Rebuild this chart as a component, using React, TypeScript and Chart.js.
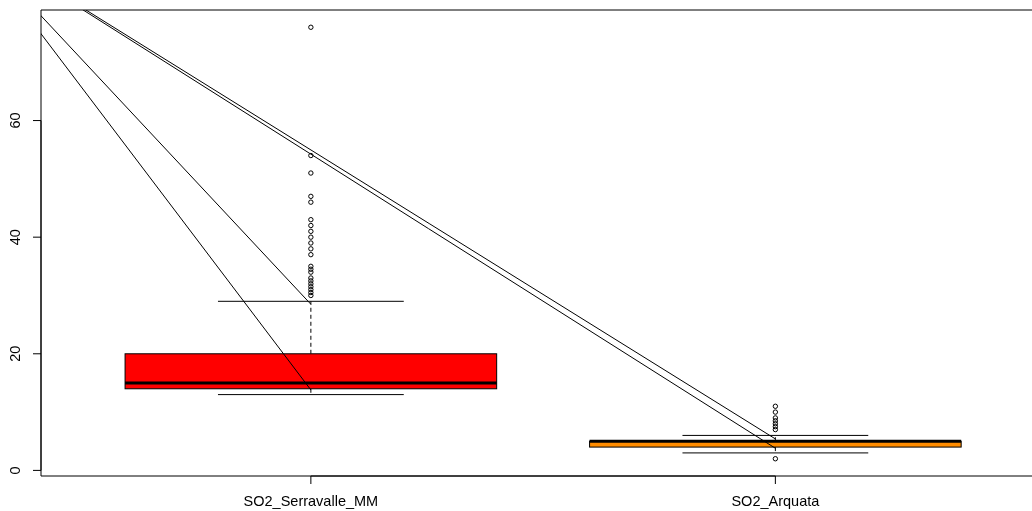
import React, { useEffect, useRef } from "react";
import { Chart, registerables } from "chart.js";

Chart.register(...registerables);

// ---- data ----
const categories = ["SO2_Serravalle_MM", "SO2_Arquata"];
const positions = [1, 2];
const lowerWhisker = [13, 3];
const q1 = [14, 4];
const median = [15, 5];
const q3 = [20, 5];
const upperWhisker = [29, 6];
const boxColors = ["#FF0000", "#FF8C00"];

const serravalleOutliers = [76, 54, 51, 47, 46, 43, 42, 41, 40, 39, 38, 37, 35, 34.5, 34, 33, 32.5, 32, 31.5, 31, 30.5, 30];
const arquataOutliers = [11, 10, 9, 8.5, 8, 7.5, 7, 2];

const yTicks = [0, 20, 40, 60];

// added straight lines (endpoints in data units)
const line1 = [{ x: 0.3, y: 87.4 }, { x: 1, y: 13.8 }];
const line2 = [{ x: 0.3, y: 88.1 }, { x: 1, y: 28.5 }];
const line3 = [{ x: 0.4, y: 84.7 }, { x: 2, y: 5.4 }];
const line4 = [{ x: 0.4, y: 84.5 }, { x: 2, y: 3.8 }];

const xRange = [0.419, 2.5525];
const yRange = [-0.96, 78.96];

const FONT = '14.5px "Liberation Sans", Arial, sans-serif';

const rPlugin = {
  id: "rBoxplot",
  beforeDatasetsDraw(chart: any) {
    const { ctx, chartArea, scales } = chart;
    const x = scales.x;
    const y = scales.y;
    ctx.save();
    ctx.beginPath();
    ctx.rect(chartArea.left, chartArea.top, chartArea.right - chartArea.left, chartArea.bottom - chartArea.top);
    ctx.clip();
    const seg = (x0: number, y0: number, x1: number, y1: number) => {
      ctx.beginPath();
      ctx.moveTo(x0, y0);
      ctx.lineTo(x1, y1);
      ctx.stroke();
    };
    positions.forEach((p, i) => {
      const cx = x.getPixelForValue(p);
      const l = x.getPixelForValue(p - 0.4);
      const r = x.getPixelForValue(p + 0.4);
      const sl = x.getPixelForValue(p - 0.2);
      const sr = x.getPixelForValue(p + 0.2);
      const yTop = y.getPixelForValue(q3[i]);
      const yBot = y.getPixelForValue(q1[i]);
      const yUp = y.getPixelForValue(upperWhisker[i]);
      const yLo = y.getPixelForValue(lowerWhisker[i]);
      const yMed = y.getPixelForValue(median[i]);
      ctx.strokeStyle = "#000";
      ctx.lineWidth = 1;
      ctx.setLineDash([4, 3]);
      seg(cx, yTop, cx, yUp);
      seg(cx, yBot, cx, yLo);
      ctx.setLineDash([]);
      seg(sl, yUp, sr, yUp);
      seg(sl, yLo, sr, yLo);
      ctx.fillStyle = boxColors[i];
      ctx.fillRect(l, yTop, r - l, yBot - yTop);
      ctx.strokeRect(l, yTop, r - l, yBot - yTop);
      ctx.lineWidth = 3;
      seg(l, yMed, r, yMed);
    });
    ctx.restore();
  },
  afterDraw(chart: any) {
    const { ctx, chartArea, scales } = chart;
    const x = scales.x;
    const y = scales.y;
    ctx.save();
    ctx.strokeStyle = "#000";
    ctx.lineWidth = 1;
    const seg = (x0: number, y0: number, x1: number, y1: number) => {
      ctx.beginPath();
      ctx.moveTo(x0, y0);
      ctx.lineTo(x1, y1);
      ctx.stroke();
    };
    seg(chartArea.left, chartArea.top, chartArea.right + 5, chartArea.top);
    seg(chartArea.left, chartArea.top, chartArea.left, chartArea.bottom);
    seg(chartArea.left, chartArea.bottom, chartArea.right + 5, chartArea.bottom);
    ctx.font = FONT;
    ctx.fillStyle = "#000";
    ctx.textAlign = "center";
    ctx.textBaseline = "middle";
    seg(chartArea.left, y.getPixelForValue(yTicks[0]), chartArea.left, y.getPixelForValue(yTicks[yTicks.length - 1]));
    yTicks.forEach((v) => {
      const py = y.getPixelForValue(v);
      seg(chartArea.left - 8, py, chartArea.left, py);
      ctx.save();
      ctx.translate(16, py);
      ctx.rotate(-Math.PI / 2);
      ctx.fillText(String(v), 0, 0);
      ctx.restore();
    });
    seg(x.getPixelForValue(positions[0]), chartArea.bottom, x.getPixelForValue(positions[positions.length - 1]), chartArea.bottom);
    positions.forEach((p, i) => {
      const px = x.getPixelForValue(p);
      seg(px, chartArea.bottom, px, chartArea.bottom + 8);
      ctx.fillText(categories[i], px, 502);
    });
    ctx.restore();
  },
};

export default function App() {
  const canvasRef = useRef<HTMLCanvasElement | null>(null);

  useEffect(() => {
    const canvas = canvasRef.current;
    if (!canvas) return;
    const lineDs = (data: { x: number; y: number }[]) => ({
      type: "line" as const,
      data,
      borderColor: "#000",
      borderWidth: 1,
      pointRadius: 0,
      showLine: true,
      fill: false,
    });
    const chart = new Chart(canvas, {
      type: "scatter",
      data: {
        datasets: [
          {
            data: [
              ...serravalleOutliers.map((v) => ({ x: positions[0], y: v })),
              ...arquataOutliers.map((v) => ({ x: positions[1], y: v })),
            ],
            pointRadius: 2.2,
            pointBorderWidth: 1,
            pointBorderColor: "#000",
            pointBackgroundColor: "rgba(0,0,0,0)",
            pointStyle: "circle",
          } as any,
          lineDs(line1) as any,
          lineDs(line2) as any,
          lineDs(line3) as any,
          lineDs(line4) as any,
        ],
      },
      options: {
        responsive: false,
        animation: false,
        layout: { autoPadding: false, padding: { left: 41, top: 10, right: 0, bottom: 35 } },
        scales: {
          x: { type: "linear", display: false, min: xRange[0], max: xRange[1] },
          y: { type: "linear", display: false, min: yRange[0], max: yRange[1] },
        },
        plugins: {
          legend: { display: false },
          tooltip: { enabled: false },
        },
        events: [],
      } as any,
      plugins: [rPlugin],
    });
    return () => chart.destroy();
  }, []);

  return (
    <div style={{ position: "absolute", left: 0, top: 0, width: 1032, height: 511, background: "#fff" }}>
      <canvas ref={canvasRef} width={1032} height={511} style={{ display: "block" }} />
    </div>
  );
}
